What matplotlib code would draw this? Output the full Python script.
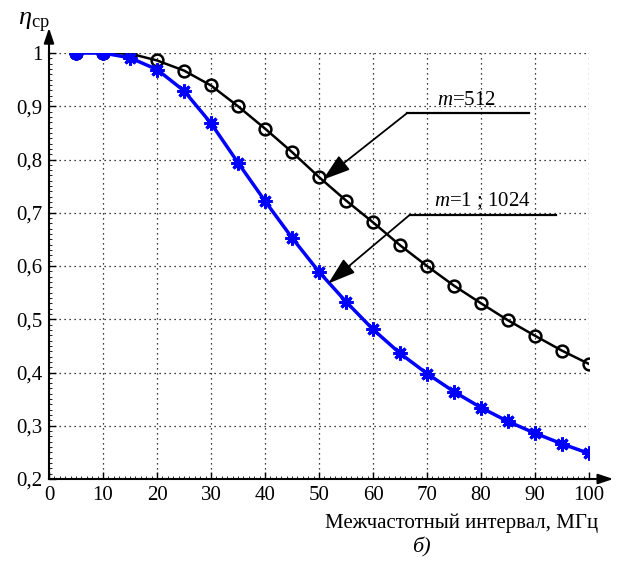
import numpy as np
import matplotlib
matplotlib.use("Agg")
import matplotlib.pyplot as plt
from matplotlib.ticker import MultipleLocator

# data
freq = [5, 10, 15, 20, 25, 30, 35, 40, 45, 50, 55, 60, 65, 70, 75, 80, 85, 90, 95, 100]
eta_512 = [1.0, 1.0, 0.999, 0.986, 0.967, 0.939, 0.900, 0.858, 0.814, 0.767,
           0.723, 0.682, 0.639, 0.600, 0.563, 0.530, 0.498, 0.469, 0.441, 0.416]
eta_1_1024 = [1.0, 1.0, 0.991, 0.969, 0.929, 0.868, 0.794, 0.722, 0.653, 0.589,
              0.533, 0.481, 0.436, 0.398, 0.364, 0.334, 0.308, 0.286, 0.266, 0.248]

xticks = list(range(0, 101, 10))
yticks = [0.2, 0.3, 0.4, 0.5, 0.6, 0.7, 0.8, 0.9, 1.0]
ytick_labels = ["0,2", "0,3", "0,4", "0,5", "0,6", "0,7", "0,8", "0,9", "1"]

serif = ["Liberation Serif", "DejaVu Serif"]
plt.rcParams["font.family"] = serif
plt.rcParams["mathtext.fontset"] = "custom"
plt.rcParams["mathtext.rm"] = "Liberation Serif"
plt.rcParams["mathtext.it"] = "Liberation Serif:italic"

fig = plt.figure(figsize=(6.21, 5.75), dpi=100)
ax = fig.add_axes([49 / 621, 96 / 575, 540 / 621, 426 / 575])

# curves
ax.plot(freq, eta_512, color="black", lw=1.8, marker="o", ms=8.5,
        mfc="none", mec="black", mew=1.8, zorder=3)
ax.plot(freq, eta_1_1024, color="blue", lw=2.5, marker=(8, 2, 0), ms=10,
        mec="blue", mew=2.2, zorder=4)
ax.plot(freq[:2], eta_1_1024[:2], ls="none", marker="o", ms=9,
        mfc="blue", mec="blue", zorder=5)

ax.set_xlim(0, 100)
ax.set_ylim(0.2, 1.0)
ax.set_xticks(xticks)
ax.set_xticklabels([str(t) for t in xticks], family=serif)
ax.set_yticks(yticks)
ax.set_yticklabels(ytick_labels, family=serif)
ax.yaxis.set_minor_locator(MultipleLocator(0.01))
ax.xaxis.set_minor_locator(MultipleLocator(1))
ax.tick_params(which="major", direction="in", length=5, width=1, labelsize=15, pad=5)
ax.tick_params(which="minor", direction="in", length=2, width=0.6)

ax.grid(True, which="major", color="black", linestyle=(0, (1, 3)), lw=0.9)
for s in ["top", "right"]:
    ax.spines[s].set_visible(False)
for s in ["left", "bottom"]:
    ax.spines[s].set_linewidth(1.5)

# axis arrows
ax.annotate("", xy=(1.045, 0), xytext=(0.99, 0), xycoords="axes fraction",
            arrowprops=dict(arrowstyle="-|>,head_length=0.9,head_width=0.3",
                            color="black", lw=1.5, shrinkA=0, shrinkB=0),
            annotation_clip=False)
ax.annotate("", xy=(0, 1.059), xytext=(0, 0.99), xycoords="axes fraction",
            arrowprops=dict(arrowstyle="-|>,head_length=0.9,head_width=0.3",
                            color="black", lw=1.5, shrinkA=0, shrinkB=0),
            annotation_clip=False)

# annotations
ax.plot([66.3, 88.9], [0.887, 0.887], color="black", lw=1.6, clip_on=False, zorder=6)
ax.annotate("", xy=(50.7, 0.762), xytext=(66.3, 0.887),
            arrowprops=dict(arrowstyle="-|>,head_length=1.7,head_width=0.55",
                            color="black", lw=1.3, shrinkA=0, shrinkB=0), zorder=6)
ax.text(77.3, 0.893, r"$m$=512", ha="center", va="bottom", fontsize=15, zorder=6)

ax.plot([66.8, 93.8], [0.696, 0.696], color="black", lw=1.6, clip_on=False, zorder=6)
ax.annotate("", xy=(51.7, 0.567), xytext=(66.8, 0.696),
            arrowprops=dict(arrowstyle="-|>,head_length=1.7,head_width=0.55",
                            color="black", lw=1.3, shrinkA=0, shrinkB=0), zorder=6)
ax.text(80.2, 0.702, r"$m$=1 ; 1024", ha="center", va="bottom", fontsize=15, zorder=6)

# axis labels
fig.text(50 / 621, 1 - 23 / 575, r"$\eta_{\mathrm{ср}}$", ha="right", va="center", fontsize=19)
fig.text(598 / 621, 1 - 523 / 575, "Межчастотный интервал, МГц",
         ha="right", va="center", fontsize=15)
fig.text(421 / 621, 1 - 547 / 575, "б)", ha="center", va="center",
         fontsize=16, style="italic")

fig.savefig("out.png", dpi=100)
